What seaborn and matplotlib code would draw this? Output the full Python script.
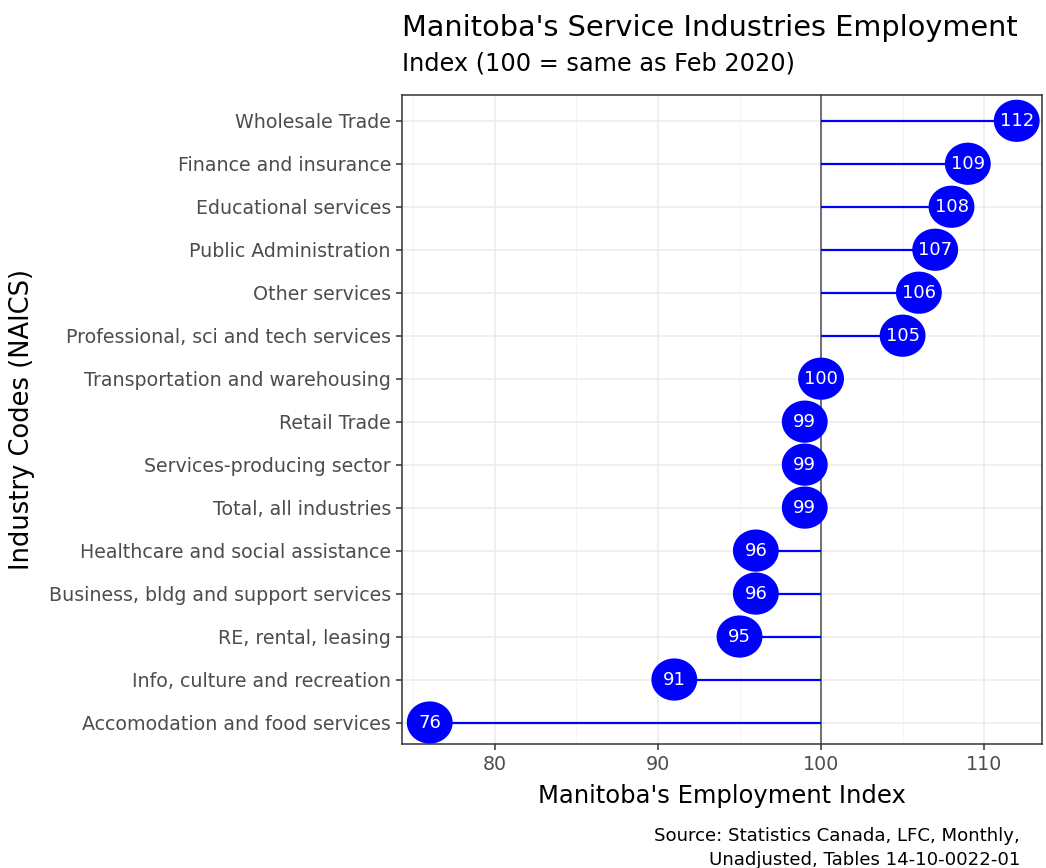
import matplotlib
matplotlib.use("Agg")
import matplotlib.pyplot as plt
import seaborn as sns
import pandas as pd
import numpy as np
from matplotlib.ticker import MultipleLocator
from matplotlib.path import Path

industries = [
    "Wholesale Trade",
    "Finance and insurance",
    "Educational services",
    "Public Administration",
    "Other services",
    "Professional, sci and tech services",
    "Transportation and warehousing",
    "Retail Trade",
    "Services-producing sector",
    "Total, all industries",
    "Healthcare and social assistance",
    "Business, bldg and support services",
    "RE, rental, leasing",
    "Info, culture and recreation",
    "Accomodation and food services",
]
index_values = [112, 109, 108, 107, 106, 105, 100, 99, 99, 99, 96, 96, 95, 91, 76]
x_ticks = [80, 90, 100, 110]

sns.set_theme(style="white")
plt.rcParams["font.family"] = ["DejaVu Sans"]

df = pd.DataFrame({"industry": industries, "value": index_values})
df["pos"] = np.arange(len(df))

W, H = 1046, 868
fig = plt.figure(figsize=(W / 100, H / 100), dpi=100)
L, R, T, B = 402, 1042, 95, 744
ax = fig.add_axes([L / W, 1 - B / H, (R - L) / W, (B - T) / H])

ax.set_xlim(74.3, 113.55)
ax.set_ylim(len(df) - 0.5, -0.6)
ax.xaxis.set_minor_locator(MultipleLocator(5))
ax.set_xticks(x_ticks)
ax.grid(which="major", axis="both", color="#EBEBEB", linewidth=1.1, zorder=0)
ax.grid(which="minor", axis="x", color="#F2F2F2", linewidth=0.6, zorder=0)
ax.set_axisbelow(True)

# slightly elliptical marker (reference is a little stretched horizontally)
t = np.linspace(0, 2 * np.pi, 100)
ell = Path(np.column_stack([np.cos(t), 0.92 * np.sin(t)]), closed=True)

ax.axvline(100, color="#5A5A5A", linewidth=1.2, zorder=1)
ax.hlines(df["pos"], 100, df["value"], color="#0000FF", linewidth=1.6, zorder=2)
sns.scatterplot(data=df, x="value", y="pos", s=1090, color="#0000FF", marker=ell,
                edgecolor="none", linewidth=0, ax=ax, zorder=3, legend=False)
for _, r in df.iterrows():
    ax.text(r["value"], r["pos"], f"{int(r['value'])}", color="white",
            ha="center", va="center", fontsize=13, zorder=4)

ax.set_yticks(df["pos"])
ax.set_yticklabels(df["industry"])
ax.tick_params(axis="both", which="major", labelsize=13.7, labelcolor="#4D4D4D",
               color="#333333", length=4, width=1.1, pad=4, left=True, bottom=True)
ax.tick_params(axis="x", which="minor", length=0)
for s in ax.spines.values():
    s.set_color("#333333")
    s.set_linewidth(1.1)

ax.set_xlabel("Manitoba's Employment Index", fontsize=17.5, color="black", labelpad=7)
ax.set_ylabel("Industry Codes (NAICS)", fontsize=18.5, color="black", labelpad=10)

fig.text(L / W, 1 - 35.7 / H, "Manitoba's Service Industries Employment", fontsize=20.7,
         ha="left", va="baseline", color="black")
fig.text(L / W, 1 - 70.3 / H, "Index (100 = same as Feb 2020)", fontsize=17.3,
         ha="left", va="baseline", color="black")
fig.text(1020 / W, 1 - 841 / H, "Source: Statistics Canada, LFC, Monthly,",
         fontsize=13.1, ha="right", va="baseline", color="black")
fig.text(1020 / W, 1 - 865 / H, "Unadjusted, Tables 14-10-0022-01",
         fontsize=13.1, ha="right", va="baseline", color="black")

fig.savefig("out.png", dpi=100)
